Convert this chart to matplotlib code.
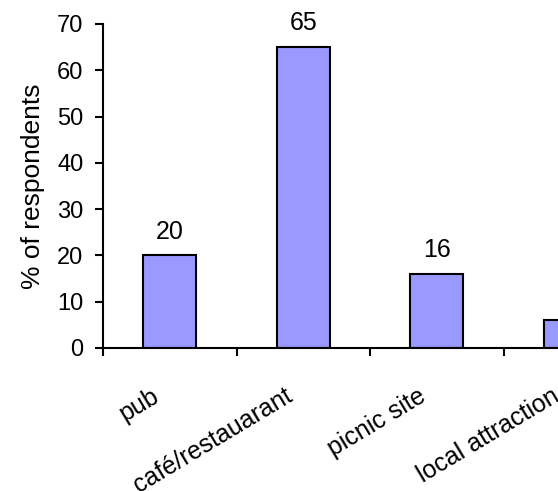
import numpy as np
import matplotlib.pyplot as plt
from matplotlib.transforms import ScaledTranslation

plt.rcParams['font.family'] = ['Liberation Sans', 'DejaVu Sans']

places = ["pub", "café/restauarant", "picnic site", "local attraction"]
pct = [20, 65, 16, 6]

fig = plt.figure(figsize=(5.58, 4.91), dpi=100)
# axes runs past the right edge of the figure, so the last bar is cut
ax = fig.add_axes([103/558, 143/491, 534/558, 324/491])

x = np.arange(len(places))
bars = ax.bar(x, pct, width=0.4, color="#9999ff", edgecolor="black", linewidth=1.5)
for xi, v in zip(x, pct):
    ax.annotate(str(v), (xi, v), xytext=(0, 12), textcoords="offset points",
                ha="center", va="baseline", fontsize=18)

ax.set_xlim(-0.5, len(places) - 0.5)
ax.set_ylim(0, 70)
ax.set_yticks(range(0, 71, 10))
ax.set_ylabel("% of respondents", fontsize=19, labelpad=9)

# ticks sit between categories, labels at category centres
ax.set_xticks(np.arange(len(places) + 1) - 0.5)
ax.set_xticklabels([])
ax.set_xticks(x, minor=True)
ax.set_xticklabels(places, minor=True, rotation=31, ha="right",
                   rotation_mode="anchor", fontsize=18)
ax.tick_params(axis="x", which="minor", length=0, pad=26)
ax.tick_params(axis="both", which="major", direction="out", length=6,
               width=1.5, labelsize=17)
ax.tick_params(axis="y", pad=8)
shift = ScaledTranslation(-19/100, 0, fig.dpi_scale_trans)
for lab in ax.get_xticklabels(minor=True):
    lab.set_transform(lab.get_transform() + shift)

for s in ["top", "right"]:
    ax.spines[s].set_visible(False)
for s in ["left", "bottom"]:
    ax.spines[s].set_linewidth(1.5)

fig.savefig("out.png", dpi=100)
